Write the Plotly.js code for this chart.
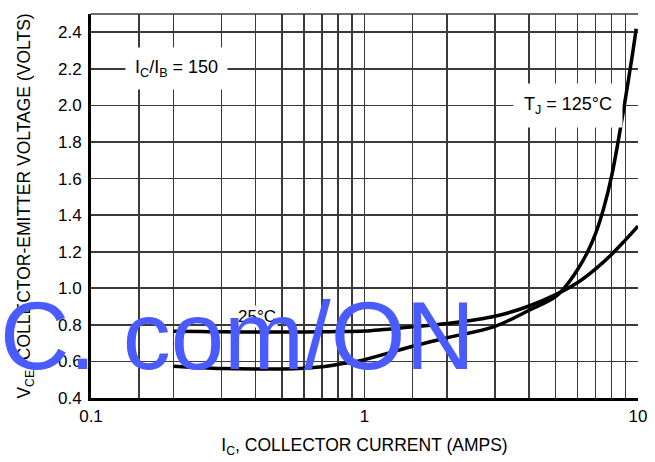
<!DOCTYPE html>
<html>
<head>
<meta charset="utf-8">
<script src="https://cdn.plot.ly/plotly-3.0.1.min.js"></script>
<style>
  html, body { margin: 0; padding: 0; background: #fff; }
  #chart { width: 655px; height: 462px; }
</style>
</head>
<body>
<div id="chart"></div>
<script>
// Collector current (A) and V_CE(sat) (V)
const current25 = [0.2, 0.25, 0.3, 0.4, 0.5, 0.6, 0.7, 0.8, 1.0, 1.5, 2, 3, 4, 5, 6, 7, 8, 9, 10];
const vce25     = [0.765, 0.763, 0.762, 0.761, 0.761, 0.761, 0.762, 0.763, 0.766, 0.789, 0.807, 0.847, 0.903, 0.965, 1.03, 1.106, 1.185, 1.265, 1.34];

const current125 = [0.2, 0.25, 0.3, 0.4, 0.5, 0.6, 0.7, 0.8, 1.0, 1.5, 2, 3, 4, 5, 5.5, 6, 6.5, 7, 7.5, 8, 8.5, 9, 9.5, 9.85];
const vce125     = [0.574, 0.566, 0.561, 0.558, 0.559, 0.563, 0.571, 0.584, 0.610, 0.683, 0.729, 0.792, 0.880, 0.955, 1.02, 1.10, 1.19, 1.30, 1.44, 1.61, 1.82, 2.04, 2.26, 2.42];

// Axis ticks / grid definitions
const xTickVals = [0.1, 1, 10];
const xTickText = ['0.1', '1', '10'];
const xMinorGridVals = [0.15, 0.2, 0.3, 0.4, 0.5, 0.6, 0.7, 0.8, 0.9, 1.5, 2, 3, 4, 5, 6, 7, 8, 9];
const yTickVals = [0.4, 0.6, 0.8, 1.0, 1.2, 1.4, 1.6, 1.8, 2.0, 2.2, 2.4];
const yTickText = ['0.4', '0.6', '0.8', '1.0', '1.2', '1.4', '1.6', '1.8', '2.0', '2.2', '2.4'];

const FONT = '"Liberation Sans", Arial, Helvetica, sans-serif';
const GRID = '#3a3a3a';

const traces = [
  { x: current25, y: vce25, type: 'scatter', mode: 'lines', name: '25°C',
    line: { color: '#000', width: 3.5, shape: 'spline', smoothing: 1 }, hoverinfo: 'x+y' },
  { x: current125, y: vce125, type: 'scatter', mode: 'lines', name: '125°C',
    line: { color: '#000', width: 3.5, shape: 'spline', smoothing: 1 }, hoverinfo: 'x+y' }
];

const layout = {
  width: 655, height: 462,
  margin: { l: 91, r: 17, t: 14, b: 64 },
  paper_bgcolor: '#fff', plot_bgcolor: '#fff',
  showlegend: false,
  font: { family: FONT, color: '#000', size: 17 },
  xaxis: {
    type: 'log', range: [-1, 1],
    tickmode: 'array', tickvals: xTickVals, ticktext: xTickText,
    showgrid: true, gridcolor: GRID, gridwidth: 1.6,
    minor: { tickmode: 'array', tickvals: xMinorGridVals, showgrid: true, gridcolor: GRID, gridwidth: 1.6, ticks: '' },
    showline: true, linecolor: '#000', linewidth: 3,
    ticks: '', ticklabelstandoff: 1,
    tickfont: { family: FONT, size: 17, color: '#000' },
    title: { text: 'I<sub>C</sub>, COLLECTOR CURRENT (AMPS)', font: { family: FONT, size: 17.5, color: '#000' }, standoff: 14 },
    automargin: false, fixedrange: true
  },
  yaxis: {
    range: [0.4, 2.5],
    tickmode: 'array', tickvals: yTickVals, ticktext: yTickText,
    showgrid: true, gridcolor: GRID, gridwidth: 1.6,
    zeroline: false,
    showline: true, linecolor: '#000', linewidth: 3,
    ticks: '', ticklabelstandoff: 3,
    tickfont: { family: FONT, size: 17, color: '#000' },
    title: { text: 'V<sub>CE</sub>, COLLECTOR-EMITTER VOLTAGE (VOLTS)', font: { family: FONT, size: 17.5, color: '#000' }, standoff: 23 },
    automargin: false, fixedrange: true
  },
  shapes: [
    { type: 'line', xref: 'paper', yref: 'paper', x0: 0, x1: 1, y0: 1, y1: 1, line: { color: GRID, width: 1.6 } }
  ],
  annotations: [
    { xref: 'paper', yref: 'y', x: 0.157, y: 2.2, xanchor: 'center', yanchor: 'middle',
      text: 'I<sub>C</sub>/I<sub>B</sub> = 150', showarrow: false,
      font: { family: FONT, size: 18, color: '#000' }, bgcolor: '#fff', borderpad: 9 },
    { xref: 'paper', yref: 'y', x: 0.872, y: 2.0, xanchor: 'center', yanchor: 'middle',
      text: 'T<sub>J</sub> = 125°C', showarrow: false,
      font: { family: FONT, size: 18, color: '#000' }, bgcolor: '#fff', borderpad: 10 },
    { xref: 'paper', yref: 'y', x: 0.303, y: 0.845, xanchor: 'center', yanchor: 'middle',
      text: '25°C', showarrow: false,
      font: { family: FONT, size: 17, color: '#000' }, bgcolor: '#fff', borderpad: 1 },
    { xref: 'paper', yref: 'paper', x: -0.170, y: 0.018, xanchor: 'left', yanchor: 'bottom',
      text: 'C. com/ON', showarrow: false,
      font: { family: FONT, size: 96, color: '#4a5bff' } }
  ]
};

Plotly.newPlot('chart', traces, layout, { staticPlot: true, displayModeBar: false });
</script>
</body>
</html>
